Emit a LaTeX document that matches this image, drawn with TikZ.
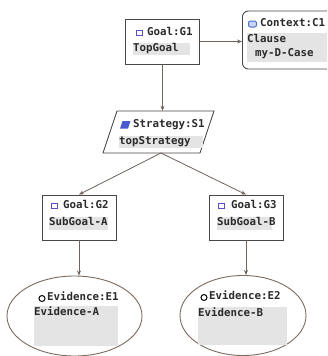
\documentclass[tikz,border=0pt]{standalone}
\usepackage{fontspec}
\setmonofont{DejaVu Sans Mono}
\usetikzlibrary{arrows.meta,shapes.geometric}
\definecolor{boxline}{HTML}{4A4646}
\definecolor{arrowc}{HTML}{6E625C}
\definecolor{ellc}{HTML}{7A6A60}
\definecolor{hl}{HTML}{E4E4E4}
\definecolor{txt}{HTML}{2A2A2A}
\definecolor{goalicon}{HTML}{5B4FC8}
\definecolor{stratc}{HTML}{4A5BD0}
\definecolor{ctxicon}{HTML}{4A6ED0}
\definecolor{ctxfill}{HTML}{C8D4F4}
\begin{document}
\begin{tikzpicture}[x=1pt,y=-1pt,
  goalbox/.style={draw=boxline, line width=0.9pt, rectangle, inner sep=0, minimum width=74pt, minimum height=45pt},
  ctxbox/.style={draw=boxline, line width=0.9pt, rectangle, rounded corners=6pt, inner sep=0},
  stratline/.style={draw=boxline, line width=0.9pt},
  evbox/.style={draw=ellc, line width=0.9pt, ellipse, inner sep=0},
  lbl/.style={font=\ttfamily\bfseries\fontsize{10.8}{12}\selectfont, text=txt, inner sep=0, anchor=mid west},
  conn/.style={draw=arrowc, line width=0.8pt, -{Stealth[length=5pt,width=4pt]}},
]
\useasboundingbox (0,0) rectangle (327,356);
\clip (0,0) rectangle (327,356);
\fill[white] (0,0) rectangle (327,356);

% shapes
\node[goalbox] (G1) at (162.5,41.5) {};
\node[ctxbox, minimum width=200pt, minimum height=58pt, anchor=west] (C1) at (242,40) {};
\node[inner sep=0, minimum width=97pt, minimum height=42pt] (S1) at (158.5,132) {};
\draw[stratline] (117,111) -- (214,111) -- (200,153) -- (103,153) -- cycle;
\node[goalbox] (G2) at (79,217.5) {};
\node[goalbox] (G3) at (246,217.5) {};
\node[evbox, minimum width=135pt, minimum height=80pt] (E1) at (74.5,316) {};
\node[evbox, minimum width=126pt, minimum height=80pt] (E2) at (243,315.5) {};
\coordinate (s1apex) at (161,153);

% highlights
\fill[hl] (133,43) rectangle (190,55);
\fill[hl] (247,33) rectangle (330,62);
\fill[hl] (119,136) rectangle (203,148);
\fill[hl] (49,217) rectangle (108,230);
\fill[hl] (217,217) rectangle (272,230);
\fill[hl] (34,306) rectangle (118,346);
\fill[hl] (198,307) rectangle (287,345);

% icons
\node[draw=goalicon, line width=1pt, minimum width=6pt, minimum height=5pt, inner sep=0] (g1i) at (139,32.5) {};
\node[draw=goalicon, line width=1pt, minimum width=6pt, minimum height=5pt, inner sep=0] (g2i) at (54,205.5) {};
\node[draw=goalicon, line width=1pt, minimum width=6pt, minimum height=5pt, inner sep=0] (g3i) at (221,205.5) {};
\node[draw=ctxicon, fill=ctxfill, line width=1pt, rounded corners=2pt, minimum width=8pt, minimum height=6pt, inner sep=0] (c1i) at (252.5,24) {};
\fill[stratc] (122.5,121) -- (130.5,121) -- (128,128.5) -- (120,128.5) -- cycle;
\node[draw=black, line width=1pt, circle, minimum size=6pt, inner sep=0] (e1i) at (42,298.5) {};
\node[draw=black, line width=1pt, circle, minimum size=6pt, inner sep=0] (e2i) at (204,297.5) {};

% texts
\node[lbl] (g1a) at (147,33) {Goal:G1};
\node[lbl] (g1b) at (133,49) {TopGoal};
\node[lbl] (c1a) at (260,24) {Context:C1};
\node[lbl] (c1b) at (247,40) {Clause};
\node[lbl] (c1c) at (255,54) {my-D-Case};
\node[lbl] (s1a) at (133,125) {Strategy:S1};
\node[lbl] (s1b) at (119,142) {topStrategy};
\node[lbl] (g2a) at (63,206) {Goal:G2};
\node[lbl] (g2b) at (49,223) {SubGoal-A};
\node[lbl] (g3a) at (231,206) {Goal:G3};
\node[lbl] (g3b) at (217,223) {SubGoal-B};
\node[lbl] (e1a) at (47,298.5) {Evidence:E1};
\node[lbl] (e1b) at (34,313) {Evidence-A};
\node[lbl] (e2a) at (209,297.5) {Evidence:E2};
\node[lbl] (e2b) at (198,314) {Evidence-B};

% connectors
\draw[conn] (G1.east) -- (G1.east -| C1.west);
\draw[conn] (G1.south) -- (G1.south |- S1.north);
\draw[conn] (s1apex) -- (G2.north);
\draw[conn] (s1apex) -- (G3.north);
\draw[conn] (G2.south) -- (G2.south |- E1.north);
\draw[conn] (G3.south) -- (G3.south |- E2.north);
\end{tikzpicture}
\end{document}
